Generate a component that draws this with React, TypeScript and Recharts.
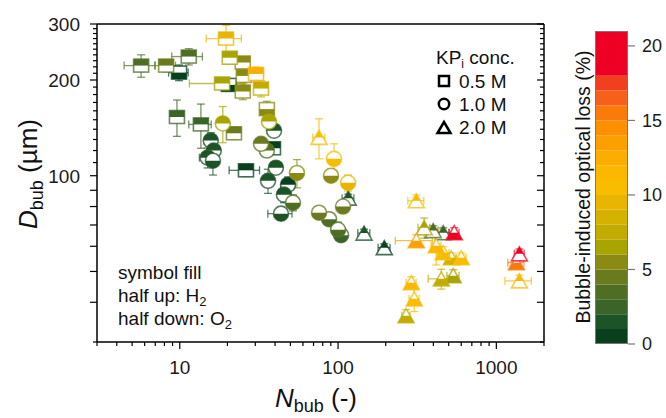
import React from "react";
import { ScatterChart, Scatter, XAxis, YAxis, ErrorBar, BarChart, Bar } from "recharts";

const FONT = '"Liberation Sans", Arial, Helvetica, sans-serif';

// 0.5 M KPi (squares)
const sqN = [5.7, 8.2, 9.9, 11.4, 9.6, 13.6, 26.2, 22, 19.6, 20.7, 25, 30.3, 25.4, 18.5, 20.4, 25, 32.6, 35.5, 38.8];
const sqD = [222, 222, 211, 237, 153, 145, 104, 136, 270, 235, 227, 209, 206, 195, 193, 184, 188, 162, 122];
const sqLoss = [3.5, 4, 0.5, 3, 2, 2, 0.5, 4, 9, 6, 5, 12.5, 5, 6, 0.5, 5, 7, 5.5, 0.5];
const sqGas = ["H2", "H2", "O2", "H2", "H2", "H2", "H2", "H2", "H2", "H2", "H2", "H2", "H2", "H2", "O2", "H2", "H2", "O2", "H2"];
const sqNErr = [1.25, 1.2, 1.4, 2.5, 0.8, 2.2, 5.7, 1.9, 4.9, 1.5, 1.8, 3.5, 1.8, 7, 2.4, 2.2, 2.8, 2.6, 2.3];
const sqDErr = [18, 10, 12, 14, 20, 23, 4.5, 6, 27, 10, 10, 10.6, 9, 8.5, 8.4, 10.6, 11, 9.4, 3.5];

// 1.0 M KPi (circles)
const ciN = [18.7, 15.7, 16.4, 15, 16.2, 36.6, 39.4, 32.6, 35.5, 40.5, 36.1, 55, 48.3, 45.5, 51.9, 43.6, 94.3, 90.3, 115.7, 107.5, 75.8, 87.7, 100, 104.5];
const ciD = [146, 129, 120, 114, 111.5, 148, 138.5, 126, 120, 106, 96.4, 102, 93.7, 87.2, 82.3, 76, 113, 100, 95, 80, 76.5, 73, 67.6, 65];
const ciLoss = [6.5, 1.5, 1.5, 1.5, 1.5, 6, 1.5, 4, 3, 1.5, 1.5, 5, 0.5, 1, 3, 1, 10, 5, 9.5, 4.5, 4, 3.5, 3, 2.5];
const ciGas = ["H2", "H2", "H2", "H2", "O2", "H2", "H2", "H2", "H2", "H2", "H2", "O2", "H2", "H2", "O2", "O2", "O2", "O2", "O2", "O2", "O2", "O2", "O2", "O2"];
const ciNErr = [1.6, 1.4, 1.4, 1.7, 1.5, 2.1, 2.9, 2.4, 2.6, 3.5, 2.6, 4, 4.2, 4, 4.5, 7.6, 8.2, 6.6, 10, 7.8, 5.5, 6.4, 7.3, 7.6];
const ciDErr = [19, 7.5, 7, 8.2, 11, 6.4, 5, 4.6, 5.2, 4.6, 8.4, 10.4, 5.4, 5, 4.8, 3.3, 13, 4.3, 5.5, 3.5, 3.3, 3.2, 3.9, 2.8];

// 2.0 M KPi (triangles)
const trN = [75.8, 116, 146, 196, 312, 350, 312, 399, 462, 542, 417, 462, 519, 600, 449, 534, 290, 303, 269, 1398, 1338, 1398];
const trD = [132, 85, 66, 59.4, 83.4, 68.6, 62.5, 67.2, 66.2, 66.2, 60.2, 57.3, 55.2, 55.2, 47.4, 48.5, 46.1, 41, 36.3, 56.8, 53.3, 46.7];
const trLoss = [10, 1.5, 1, 0.3, 10, 6, 13.5, 3, 2, 20, 11, 10, 8, 10.5, 7, 6.5, 11, 10.5, 7, 20, 15.5, 11];
const trGas = ["H2", "H2", "H2", "H2", "H2", "H2", "O2", "H2", "H2", "O2", "O2", "O2", "O2", "O2", "O2", "O2", "O2", "O2", "O2", "H2", "O2", "H2"];
const trNErr = [6.6, 10, 12.8, 17, 36, 30, 82, 29, 40, 39, 30, 40, 38, 44, 78, 47, 21, 22, 16, 100, 156, 265];
const trDErr = [19, 2.5, 1.9, 1.7, 3.6, 5, 2.7, 2.4, 2.4, 2.4, 7.8, 2.5, 2, 2, 3.4, 2.1, 2, 3.6, 1.6, 2, 2, 2];

// axes
const xTicks = [3, 4, 5, 6, 7, 8, 9, 10, 20, 30, 40, 50, 60, 70, 80, 90, 100, 200, 300, 400, 500, 600, 700, 800, 900, 1000, 2000];
const xMajor = [10, 100, 1000];
const yTicks = [30, 40, 50, 60, 70, 80, 90, 100, 110, 120, 130, 140, 150, 160, 170, 180, 190, 200, 210, 220, 230, 240, 250, 260, 270, 280, 290, 300];
const yLong = [40, 50, 60, 70, 80, 90, 100, 200, 300];
const yMajor = [100, 200, 300];

// colour scale (optical loss, %)
const lossEdges = [0, 1, 2, 3, 4, 5, 6, 7, 8, 9, 10, 11, 12, 13, 14, 15, 16, 17, 18, 21];
const lossColors = [
  "#08401e", "#1c5428", "#3a6428", "#4e6e24", "#6a7a1e", "#8a8a14", "#a8a400", "#c2ac00", "#d6b200", "#e8b600",
  "#f8bc00", "#fcb800", "#fcae00", "#fca000", "#fc9000", "#fa7a0c", "#f66018", "#f0401e", "#ee0024",
];
const lossTicks = [0, 5, 10, 15, 20];

const bandOf = (v: number) => {
  let i = 0;
  while (i < lossColors.length - 1 && v >= lossEdges[i + 1]) i++;
  return i;
};

const build = (conc: number, n: number[], d: number[], loss: number[], gas: string[], ne: number[], de: number[]) =>
  n.map((x, i) => ({ x, y: d[i], ex: ne[i], ey: de[i], loss: loss[i], gas: gas[i], conc }));

const points = [
  ...build(0.5, sqN, sqD, sqLoss, sqGas, sqNErr, sqDErr),
  ...build(1.0, ciN, ciD, ciLoss, ciGas, ciNErr, ciDErr),
  ...build(2.0, trN, trD, trLoss, trGas, trNErr, trDErr),
];
const groups = lossColors.map((_, b) => points.filter((p) => bandOf(p.loss) === b));

const barRow: Record<string, number | string> = { name: "loss" };
lossColors.forEach((_, i) => {
  barRow["b" + i] = lossEdges[i + 1] - lossEdges[i];
});

function Marker(props: any) {
  const { cx, cy, payload } = props;
  if (!Number.isFinite(cx) || !Number.isFinite(cy)) return null;
  const c = lossColors[bandOf(payload.loss)];
  const up = payload.gas === "H2";
  const sw = 1.6;
  const so = 0.75;
  if (payload.conc === 0.5) {
    const w = 15, h = 13;
    return (
      <g>
        <rect x={cx - w / 2} y={cy - h / 2} width={w} height={h} fill="#fff" />
        <rect x={cx - w / 2} y={up ? cy - h / 2 : cy} width={w} height={h / 2} fill={c} />
        <rect x={cx - w / 2} y={cy - h / 2} width={w} height={h} fill="none" stroke={c} strokeOpacity={so} strokeWidth={sw} />
      </g>
    );
  }
  if (payload.conc === 1.0) {
    const r = 7.5;
    const half = `M${cx - r},${cy} A${r},${r} 0 0 ${up ? 1 : 0} ${cx + r},${cy} Z`;
    return (
      <g>
        <circle cx={cx} cy={cy} r={r} fill="#fff" />
        <path d={half} fill={c} />
        <circle cx={cx} cy={cy} r={r} fill="none" stroke={c} strokeOpacity={so} strokeWidth={sw} />
      </g>
    );
  }
  const w = 16, h = 14;
  const top = cy - h / 2, bot = cy + h / 2;
  const full = `M${cx},${top} L${cx + w / 2},${bot} L${cx - w / 2},${bot} Z`;
  const upper = `M${cx},${top} L${cx + w / 4},${cy} L${cx - w / 4},${cy} Z`;
  const lower = `M${cx - w / 4},${cy} L${cx + w / 4},${cy} L${cx + w / 2},${bot} L${cx - w / 2},${bot} Z`;
  return (
    <g>
      <path d={full} fill="#fff" />
      <path d={up ? upper : lower} fill={c} />
      <path d={full} fill="none" stroke={c} strokeOpacity={so} strokeWidth={sw} strokeLinejoin="miter" />
    </g>
  );
}

const has = (arr: number[], v: number) => arr.some((a) => Math.abs(a - v) < 1e-6);

const makeTick = (side: string, long: number[], major: number[]) => (p: any) => {
  const v = p.payload.value;
  const x = p.x, y = p.y;
  const len = has(long, v) ? 7 : 4;
  const lab = has(major, v);
  const ts = { fontSize: 19, fontFamily: FONT, fill: "#1a1a1a" };
  if (side === "bottom")
    return (
      <g>
        <line x1={x} y1={y} x2={x} y2={y + len} stroke="#000" strokeWidth={1.2} />
        {lab && <text x={x} y={y + 32} textAnchor="middle" {...ts}>{v}</text>}
      </g>
    );
  if (side === "top") return <line x1={x} y1={y} x2={x} y2={y + len} stroke="#000" strokeWidth={1.2} />;
  if (side === "left")
    return (
      <g>
        <line x1={x} y1={y} x2={x - len} y2={y} stroke="#000" strokeWidth={1.2} />
        {lab && <text x={x - 17} y={y + 7} textAnchor="end" {...ts}>{v}</text>}
      </g>
    );
  return <line x1={x} y1={y} x2={x - len} y2={y} stroke="#000" strokeWidth={1.2} />;
};

const axisLine = { stroke: "#000", strokeWidth: 1.5 };

export default function App() {
  return (
    <div style={{ position: "absolute", left: 0, top: 0, width: 666, height: 418, background: "#fff", fontFamily: FONT }}>
      <ScatterChart width={666} height={418} margin={{ top: 23, right: 121, bottom: 0, left: 0 }}>
        <XAxis xAxisId="b" type="number" dataKey="x" scale="log" domain={[3, 2000]} allowDataOverflow ticks={xTicks}
          interval={0} tickSize={0} tickMargin={0} tickLine={false} axisLine={axisLine} height={76} tick={makeTick("bottom", xMajor, xMajor)} />
        <XAxis xAxisId="t" orientation="top" type="number" scale="log" domain={[3, 2000]} allowDataOverflow ticks={xTicks}
          interval={0} tickSize={0} tickMargin={0} tickLine={false} axisLine={axisLine} height={1} tick={makeTick("top", xMajor, [])} />
        <YAxis yAxisId="l" type="number" dataKey="y" scale="log" domain={[30, 300]} allowDataOverflow ticks={yTicks}
          interval={0} tickSize={0} tickMargin={0} tickLine={false} axisLine={axisLine} width={97} tick={makeTick("left", yLong, yMajor)} />
        <YAxis yAxisId="r" orientation="right" type="number" scale="log" domain={[30, 300]} allowDataOverflow ticks={yTicks}
          interval={0} tickSize={0} tickMargin={0} tickLine={false} axisLine={axisLine} width={1} tick={makeTick("right", yLong, [])} />
        {groups.map((g, b) =>
          g.length ? (
            <Scatter key={b} xAxisId="b" yAxisId="l" data={g} shape={Marker} isAnimationActive={false}>
              <ErrorBar dataKey="ex" direction="x" width={4} stroke={lossColors[b]} strokeOpacity={0.7} strokeWidth={1.3} />
              <ErrorBar dataKey="ey" direction="y" width={4} stroke={lossColors[b]} strokeOpacity={0.7} strokeWidth={1.3} />
            </Scatter>
          ) : null
        )}
      </ScatterChart>

      <div style={{ position: "absolute", left: 595, top: 21 }}>
        <BarChart width={83} height={333} data={[barRow]} margin={{ top: 10, right: 0, bottom: 10, left: 0 }} barCategoryGap={0} barGap={0}>
          <XAxis dataKey="name" hide />
          <YAxis orientation="right" type="number" domain={[0, 21]} allowDataOverflow ticks={lossTicks} interval={0} width={50}
            tickSize={7} tickMargin={7} axisLine={false} tickLine={{ stroke: "#777", strokeWidth: 1.2 }}
            tick={{ fontSize: 18, fill: "#1a1a1a", fontFamily: FONT }} />
          {lossColors.map((c, i) => (
            <Bar key={i} dataKey={"b" + i} stackId="cb" fill={c} isAnimationActive={false} />
          ))}
        </BarChart>
      </div>
      <div style={{ position: "absolute", left: 595, top: 31, width: 33, height: 313, border: "1px solid #777", boxSizing: "border-box" }} />

      <svg width={666} height={418} style={{ position: "absolute", left: 0, top: 0, pointerEvents: "none" }} fontFamily={FONT} fill="#111">
        <text transform="translate(37,174) rotate(-90)" textAnchor="middle" fontSize={26}>
          <tspan fontStyle="italic">D</tspan>
          <tspan fontSize={18} dy={6}>bub</tspan>
          <tspan dy={-6}> (µm)</tspan>
        </text>
        <text x={316} y={407} textAnchor="middle" fontSize={26}>
          <tspan fontStyle="italic">N</tspan>
          <tspan fontSize={18} dy={5}>bub</tspan>
          <tspan dy={-5}> (-)</tspan>
        </text>
        <text transform="translate(590,187) rotate(-90)" textAnchor="middle" fontSize={19.5}>
          Bubble-induced optical loss (%)
        </text>

        <text x={436} y={64} fontSize={19}>
          KP<tspan fontSize={12} dy={4}>i</tspan>
          <tspan dy={-4}> conc.</tspan>
        </text>
        <rect x={439} y={76} width={10} height={10} fill="none" stroke="#000" strokeWidth={2.5} />
        <text x={459} y={88} fontSize={19}>0.5 M</text>
        <circle cx={444} cy={104} r={5.2} fill="none" stroke="#000" strokeWidth={2.5} />
        <text x={459} y={111} fontSize={19}>1.0 M</text>
        <path d="M444,122 L450.5,133 L437.5,133 Z" fill="none" stroke="#000" strokeWidth={2.5} strokeLinejoin="miter" />
        <text x={459} y={134} fontSize={19}>2.0 M</text>

        <text x={118} y={279} fontSize={19}>symbol fill</text>
        <text x={118} y={302} fontSize={19}>
          half up: H<tspan fontSize={13} dy={4}>2</tspan>
        </text>
        <text x={118} y={325} fontSize={19}>
          half down: O<tspan fontSize={13} dy={4}>2</tspan>
        </text>
      </svg>
    </div>
  );
}
